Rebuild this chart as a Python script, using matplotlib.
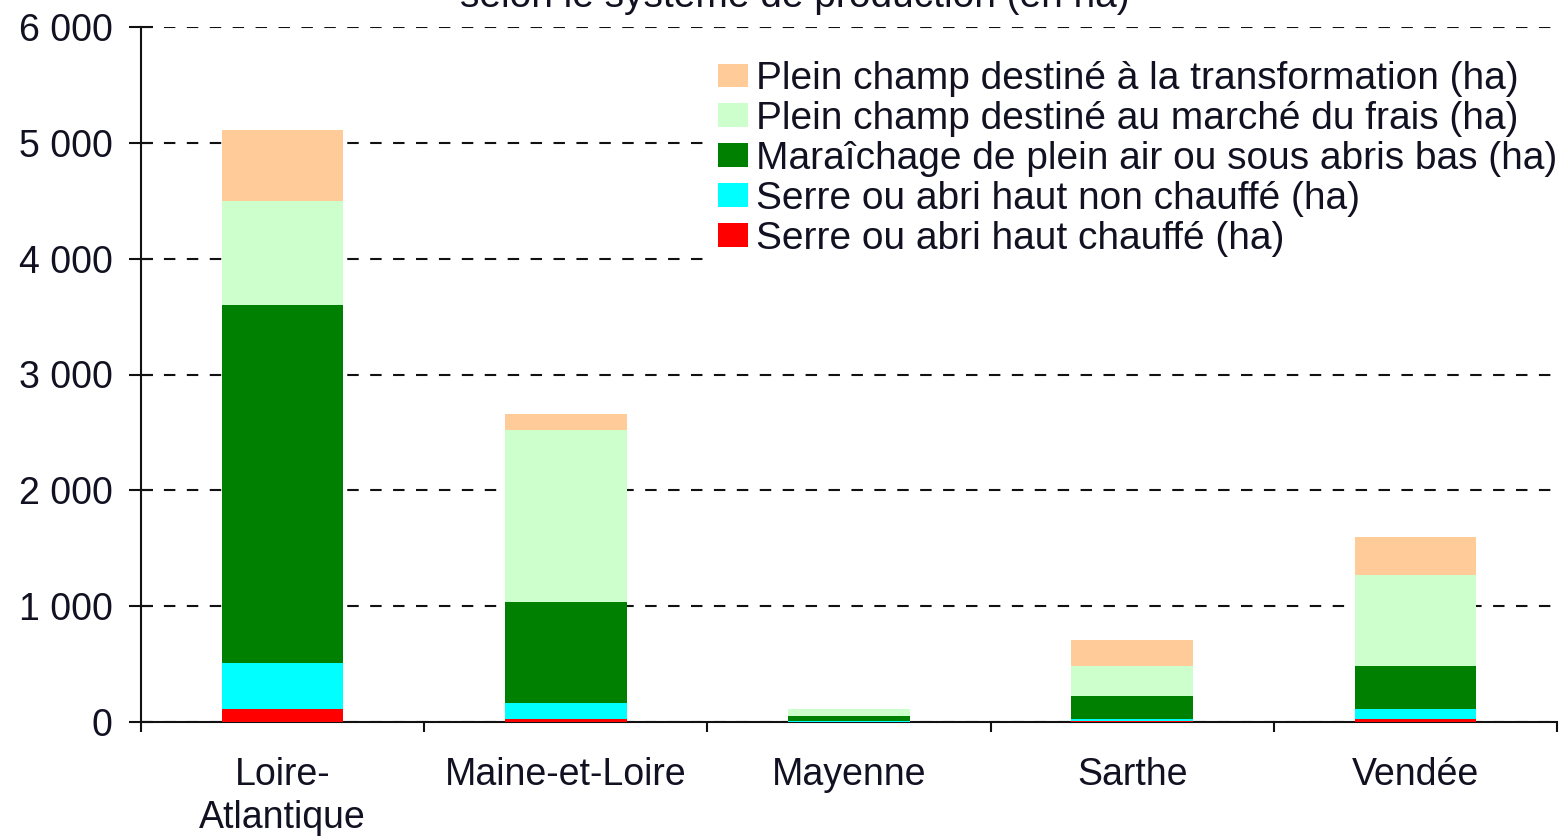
import matplotlib
matplotlib.use("Agg")
import matplotlib.pyplot as plt
from matplotlib.ticker import FuncFormatter, FixedLocator

plt.rcParams['font.family'] = ['Liberation Sans', 'DejaVu Sans']

categories = ["Loire-\nAtlantique", "Maine-et-Loire", "Mayenne", "Sarthe", "Vendée"]
serre_chauffe = [110, 25, 3, 5, 25]
serre_non_chauffe = [400, 135, 5, 20, 90]
maraichage = [3090, 875, 40, 200, 370]
frais = [900, 1485, 62, 255, 785]
transformation = [610, 140, 0, 230, 325]

series = [
    ("Serre ou abri haut chauffé (ha)", serre_chauffe, "#FF0000"),
    ("Serre ou abri haut non chauffé (ha)", serre_non_chauffe, "#00FFFF"),
    ("Maraîchage de plein air ou sous abris bas (ha)", maraichage, "#008000"),
    ("Plein champ destiné au marché du frais (ha)", frais, "#CCFFCC"),
    ("Plein champ destiné à la transformation (ha)", transformation, "#FFCC99"),
]
title = "selon le système de production (en ha)"
yticks = [0, 1000, 2000, 3000, 4000, 5000, 6000]

fig = plt.figure(figsize=(15.6, 8.36), dpi=100)
ax = fig.add_axes([141/1560, 114/836, 1416/1560, 695/836])

x = list(range(len(categories)))
bottom = [0] * len(categories)
handles = []
for label, vals, color in series:
    h = ax.bar(x, vals, width=0.43, bottom=bottom, color=color, label=label, zorder=3)
    handles.append(h)
    bottom = [b + v for b, v in zip(bottom, vals)]

ax.set_xlim(-0.5, len(categories) - 0.5)
ax.set_ylim(0, 6000)
ax.yaxis.set_major_locator(FixedLocator(yticks))
ax.yaxis.set_major_formatter(FuncFormatter(lambda v, p: f"{int(v):,}".replace(",", " ")))
ax.grid(axis='y', color='#111111', linestyle=(0, (5.5, 5.5)), linewidth=1.5, zorder=1)
ax.set_axisbelow(True)

for s in ['top', 'right']:
    ax.spines[s].set_visible(False)
for s in ['left', 'bottom']:
    ax.spines[s].set_linewidth(1.5)
    ax.spines[s].set_color('#111111')

ax.set_xticks(x)
ax.set_xticklabels(categories, fontsize=27, color='#111122', linespacing=1.25)
ax.set_xticks([i - 0.5 for i in range(len(categories) + 1)], minor=True)
ax.tick_params(axis='x', which='major', length=0, pad=25)
ax.tick_params(axis='x', which='minor', direction='out', length=7, width=1.5, color='#111111')
ax.tick_params(axis='y', which='major', direction='inout', length=17, width=1.5, color='#111111',
               labelsize=27, labelcolor='#111122', pad=12)

leg = ax.legend(handles[::-1], [s[0] for s in series][::-1], loc='upper right',
                bbox_to_anchor=(1.006, 0.962), frameon=True, fontsize=28,
                handlelength=0.77, handleheight=0.56, handletextpad=0.22,
                labelspacing=0.1, borderaxespad=0.0, borderpad=0.2, fancybox=False)
leg.get_frame().set_facecolor('white')
leg.get_frame().set_edgecolor('none')
leg.get_frame().set_alpha(1.0)
leg.set_zorder(5)
for t in leg.get_texts():
    t.set_color('#111122')

fig.text(795/1560, 1 - 7/836, title, ha='center', va='baseline', fontsize=28, color='#111122')

fig.savefig("out.png", dpi=100)
